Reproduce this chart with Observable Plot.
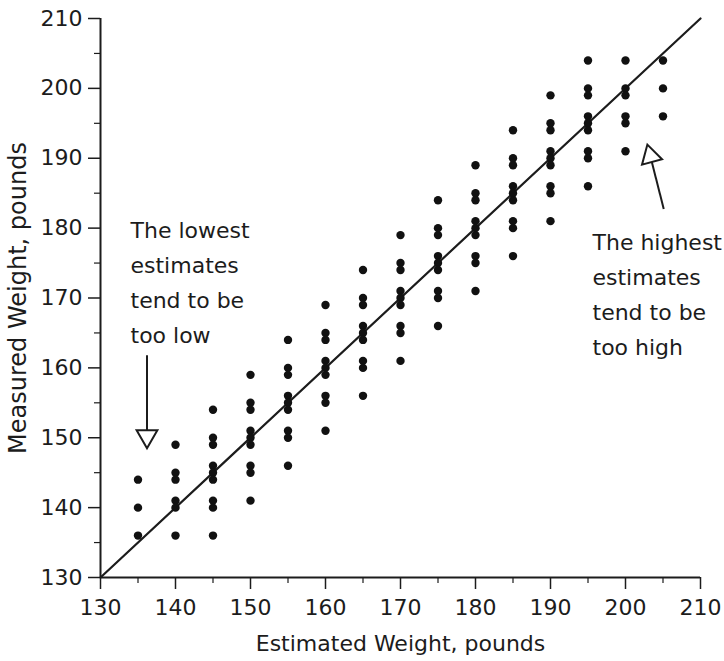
<!DOCTYPE html>
<html>
<head>
<meta charset="utf-8">
<script src="https://cdn.jsdelivr.net/npm/d3@7"></script>
<script src="https://cdn.jsdelivr.net/npm/@observablehq/plot@0.6"></script>
<style>
  html, body { margin: 0; padding: 0; background: #fff; }
  #chart { width: 724px; height: 661px; }
</style>
</head>
<body>
<div id="chart"></div>
<script>
// ---- data ----
const estimated = [135, 140, 145, 150, 155, 160, 165, 170, 175, 180, 185, 190, 195, 200, 205];
const measured = [
  [144, 140, 136],
  [149, 145, 144, 141, 140, 136],
  [154, 150, 149, 146, 145, 144, 141, 140, 136],
  [159, 155, 154, 151, 150, 149, 146, 145, 141],
  [164, 160, 159, 156, 155, 154, 151, 150, 146],
  [169, 165, 164, 161, 160, 159, 156, 155, 151],
  [174, 170, 169, 166, 165, 164, 161, 160, 156],
  [179, 175, 174, 171, 170, 169, 166, 165, 161],
  [184, 180, 179, 176, 175, 174, 171, 170, 166],
  [189, 185, 184, 181, 180, 179, 176, 175, 171],
  [194, 190, 189, 186, 185, 184, 181, 180, 176],
  [199, 195, 194, 191, 190, 189, 186, 185, 181],
  [204, 200, 199, 196, 195, 194, 191, 190, 186],
  [204, 200, 199, 196, 195, 191],
  [204, 200, 196]
];
const axisDomain = [130, 210];
const majorTicks = [130, 140, 150, 160, 170, 180, 190, 200, 210];
const minorTicks = [135, 145, 155, 165, 175, 185, 195, 205];
const xTitle = "Estimated Weight, pounds";
const yTitle = "Measured Weight, pounds";
const noteLow = ["The lowest", "estimates", "tend to be", "too low"];
const noteHigh = ["The highest", "estimates", "tend to be", "too high"];

// ---- build table ----
const points = estimated.flatMap((e, i) => measured[i].map(m => ({est: e, meas: m})));

const FONT = "DejaVu Sans";
const INK = "#1c1c1c";

const chart = Plot.plot({
  width: 724,
  height: 661,
  marginLeft: 100,
  marginRight: 24,
  marginTop: 18,
  marginBottom: 84,
  style: {fontFamily: FONT, color: INK, background: "#fff", overflow: "visible"},
  x: {domain: axisDomain, axis: null, label: null},
  y: {domain: axisDomain, axis: null, label: null},
  marks: [
    // minor ticks
    Plot.axisX({ticks: minorTicks, tickSize: 6, text: null, label: null, stroke: INK, strokeWidth: 1.2}),
    Plot.axisY({ticks: minorTicks, tickSize: 6, text: null, label: null, stroke: INK, strokeWidth: 1.2}),
    // major ticks + labels
    Plot.axisX({ticks: majorTicks, tickSize: 12, tickPadding: 10, fontSize: 22, label: null,
      tickFormat: d => String(d), stroke: INK, strokeWidth: 1.5, fill: INK}),
    Plot.axisY({ticks: majorTicks, tickSize: 12, tickPadding: 6, fontSize: 22, label: null,
      tickFormat: d => String(d), stroke: INK, strokeWidth: 1.5, fill: INK}),
    // axis lines
    Plot.ruleY([axisDomain[0]], {stroke: INK, strokeWidth: 2}),
    Plot.ruleX([axisDomain[0]], {stroke: INK, strokeWidth: 2}),
    // identity line
    Plot.line(axisDomain, {x: d => d, y: d => d, stroke: INK, strokeWidth: 2.2}),
    // points
    Plot.dot(points, {x: "est", y: "meas", r: 4.2, fill: "#111", stroke: null}),
    // annotations: low
    Plot.text([noteLow.join("\n")], {x: 134, y: 172.7, textAnchor: "start", lineAnchor: "middle",
      lineHeight: 1.59, fontSize: 22, fill: INK}),
    Plot.link([0], {x1: 136.2, y1: 161.8, x2: 136.2, y2: 150.5, stroke: INK, strokeWidth: 2}),
    Plot.dot([0], {x: 136.2, y: 150.2, symbol: "triangle", r: 7.7, rotate: 180,
      fill: "#fff", stroke: INK, strokeWidth: 2}),
    // annotations: high
    Plot.text([noteHigh.join("\n")], {x: 195.6, y: 171.0, textAnchor: "start", lineAnchor: "middle",
      lineHeight: 1.59, fontSize: 22, fill: INK}),
    Plot.link([0], {x1: 205.1, y1: 182.75, x2: 203.5, y2: 189.5, stroke: INK, strokeWidth: 2}),
    Plot.dot([0], {x: 203.33, y: 190.3, symbol: "triangle", r: 7.7, rotate: -15,
      fill: "#fff", stroke: INK, strokeWidth: 2}),
    // axis titles
    Plot.text([xTitle], {frameAnchor: "bottom", dy: 66, textAnchor: "middle", lineAnchor: "middle", fontSize: 22, fill: INK}),
    Plot.text([yTitle], {frameAnchor: "left", dx: -82, rotate: -90, textAnchor: "middle", lineAnchor: "middle", fontSize: 24, fill: INK})
  ]
});
document.getElementById("chart").appendChild(chart);
</script>
</body>
</html>
